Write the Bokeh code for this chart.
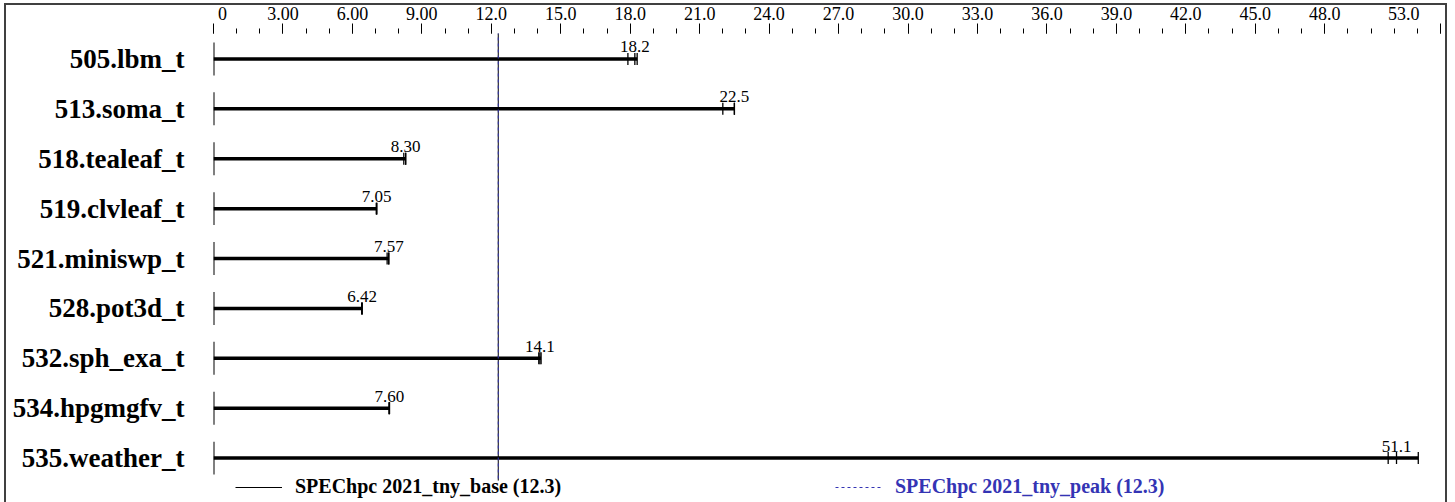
from bokeh.plotting import figure
from bokeh.models import Range1d, FixedTicker, Legend, LegendItem, ColumnDataSource, InlineStyleSheet
from bokeh.core.properties import value
from bokeh.embed import file_html
from bokeh.resources import INLINE

# ---- data ----
benchmarks = ["505.lbm_t", "513.soma_t", "518.tealeaf_t", "519.clvleaf_t", "521.miniswp_t",
              "528.pot3d_t", "532.sph_exa_t", "534.hpgmgfv_t", "535.weather_t"]
median_ratio = [18.2, 22.5, 8.30, 7.05, 7.57, 6.42, 14.1, 7.60, 51.1]
median_label = ["18.2", "22.5", "8.30", "7.05", "7.57", "6.42", "14.1", "7.60", "51.1"]
run1 = [17.9, 22.0, 8.22, 7.03, 7.50, 6.40, 14.05, 7.58, 50.74]
run2 = [18.2, 22.5, 8.30, 7.05, 7.57, 6.42, 14.10, 7.60, 51.10]
run3 = [18.3, 22.5, 8.30, 7.05, 7.57, 6.42, 14.15, 7.60, 52.04]
base_score = 12.3
peak_score = 12.3
base_label = "SPEChpc 2021_tny_base (12.3)"
peak_label = "SPEChpc 2021_tny_peak (12.3)"
tick_values = [0, 3, 6, 9, 12, 15, 18, 21, 24, 27, 30, 33, 36, 39, 42, 45, 48, 53]
tick_labels = ["0", "3.00", "6.00", "9.00", "12.0", "15.0", "18.0", "21.0", "24.0", "27.0",
               "30.0", "33.0", "36.0", "39.0", "42.0", "45.0", "48.0", "53.0"]
minor_values = list(range(0, 54))

SERIF = "Liberation Serif"
PEAK_BLUE = "#3434B4"
NBSP = "\u00a0"

rows = list(range(len(benchmarks)))
run_max = [max(a, b, c) for a, b, c in zip(run1, run2, run3)]

frame_css = InlineStyleSheet(css="""
:host::after {
  content: "";
  position: absolute;
  left: 4px; top: 3px; right: 8px; bottom: -20px;
  border: 2.5px solid #404040;
  pointer-events: none;
  z-index: 1000;
}
""")

p = figure(width=1455, height=502, x_range=Range1d(0, 53), y_range=Range1d(8.89, -0.51),
           output_backend="svg", toolbar_location=None, x_axis_location="above",
           min_border_left=213, min_border_right=15, min_border_top=32, min_border_bottom=0,
           stylesheets=[frame_css])
p.xgrid.visible = False
p.ygrid.visible = False
p.outline_line_color = None
p.background_fill_color = "white"
p.border_fill_color = "white"

# top axis; the end labels sit inward of their ticks as in the reference
xa = p.xaxis[0]
xa.ticker = FixedTicker(ticks=tick_values, minor_ticks=minor_values)
overrides = {float(v): l for v, l in zip(tick_values, tick_labels)}
overrides[float(tick_values[0])] = NBSP * 4 + tick_labels[0]
overrides[float(tick_values[-1])] = tick_labels[-1] + NBSP * 8
xa.major_label_overrides = overrides
xa.axis_line_color = None
xa.major_tick_in = 0
xa.major_tick_out = 10
xa.minor_tick_in = 0
xa.minor_tick_out = 5
xa.major_tick_line_color = "black"
xa.minor_tick_line_color = "black"
xa.major_label_standoff = 0
xa.major_label_text_font = SERIF
xa.major_label_text_font_size = "18px"
xa.major_label_text_color = "black"

# left axis
ya = p.yaxis[0]
ya.ticker = FixedTicker(ticks=rows, minor_ticks=[])
ya.major_label_overrides = {float(i): n for i, n in zip(rows, benchmarks)}
ya.axis_line_color = None
ya.major_tick_line_color = None
ya.minor_tick_line_color = None
ya.major_tick_in = 0
ya.major_tick_out = 0
ya.major_label_standoff = 29
ya.major_label_text_font = SERIF
ya.major_label_text_font_style = "bold"
ya.major_label_text_font_size = "27px"
ya.major_label_text_color = "black"

src = ColumnDataSource(dict(row=rows, med=median_ratio, lab=median_label, mx=run_max,
                            r1=run1, r2=run2, r3=run3,
                            zero=[0] * len(rows),
                            top=[r - 0.33 for r in rows], bot=[r + 0.33 for r in rows],
                            tt=[r - 0.12 for r in rows], tb=[r + 0.12 for r in rows],
                            ly=[r - 0.13 for r in rows]))

p.segment(x0="zero", x1="zero", y0="top", y1="bot", source=src, line_color="black", line_width=2)
p.segment(x0="zero", x1="mx", y0="row", y1="row", source=src, line_color="black", line_width=3.5)
for col in ("r1", "r2", "r3"):
    p.segment(x0=col, x1=col, y0="tt", y1="tb", source=src, line_color="black", line_width=1.3)
p.text(x="med", y="ly", text="lab", source=src, text_align="center", text_baseline="bottom",
       text_font=value(SERIF), text_font_size="17px", text_color="black")

base_r = p.segment(x0=[base_score], x1=[base_score], y0=[-0.55], y1=[8.45], line_color="black", line_width=1)
peak_r = p.segment(x0=[peak_score], x1=[peak_score], y0=[-0.55], y1=[8.45], line_color=PEAK_BLUE,
                   line_width=1, line_dash="3 3")

def make_legend(label, rend, loc, color):
    lg = Legend(items=[LegendItem(label=label, renderers=[rend])], location=loc,
                orientation="horizontal", glyph_width=47, glyph_height=18, label_standoff=13,
                padding=0, margin=0, spacing=0, border_line_color=None, background_fill_alpha=0,
                label_text_font=SERIF, label_text_font_style="bold", label_text_font_size="20px",
                label_text_color=color, label_height=18)
    p.add_layout(lg, "center")

make_legend(base_label, base_r, (22, 4), "black")
make_legend(peak_label, peak_r, (622, 4), PEAK_BLUE)

open("out.html", "w").write(file_html(p, INLINE))
